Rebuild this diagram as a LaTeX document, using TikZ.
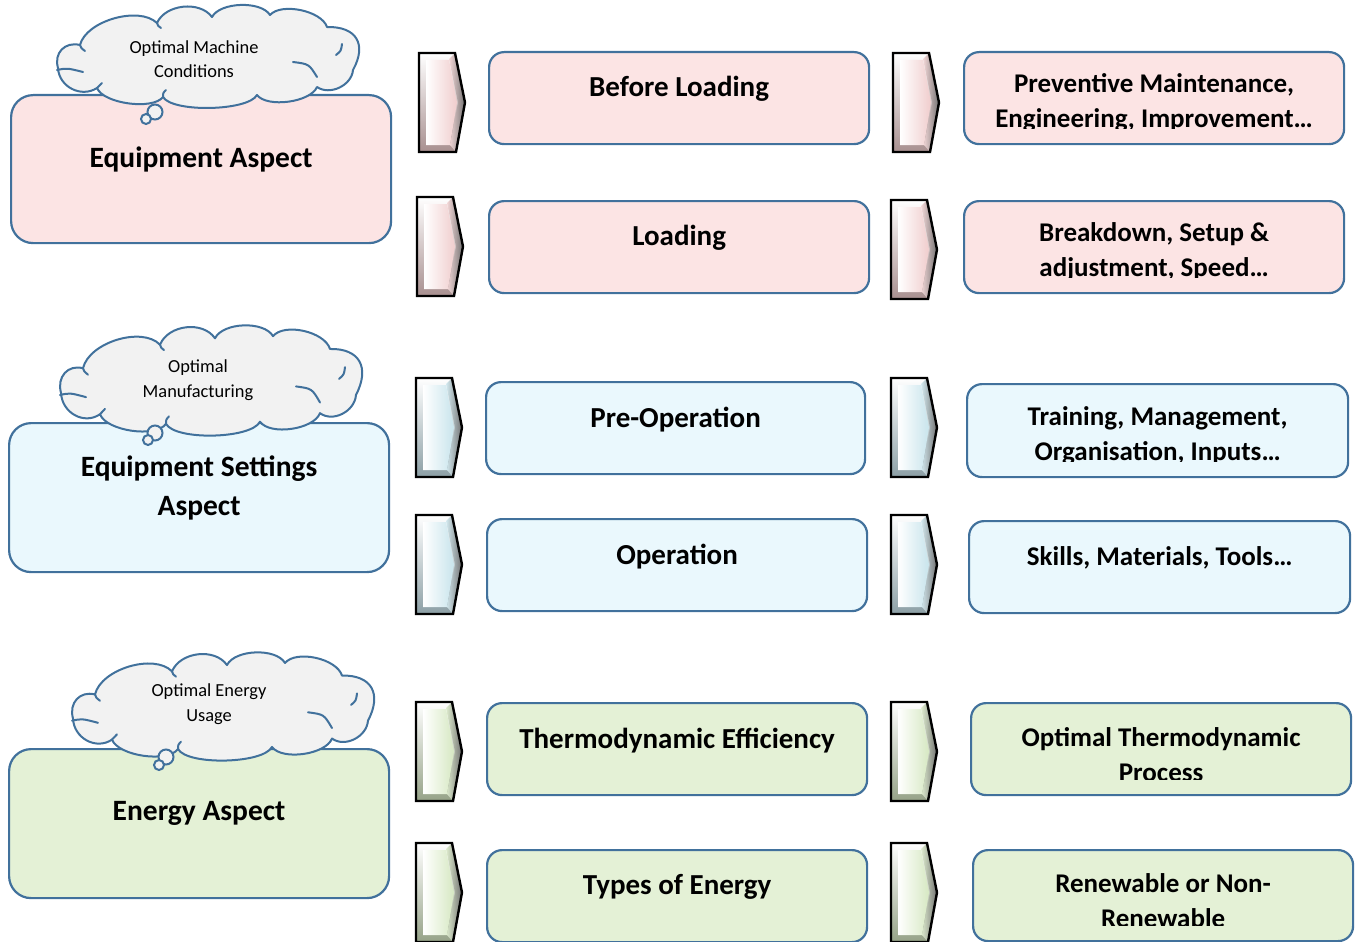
\documentclass[tikz,border=0pt]{standalone}
\usepackage{fontspec}
\setmainfont{Carlito}
\usetikzlibrary{calc}

\definecolor{edge}{RGB}{65,113,156}
\definecolor{pinkfill}{RGB}{252,228,228}
\definecolor{bluefill}{RGB}{234,248,253}
\definecolor{greenfill}{RGB}{228,241,214}
\definecolor{cloudfill}{RGB}{242,242,242}
\definecolor{pinkchev}{RGB}{240,205,205}
\definecolor{bluechev}{RGB}{200,228,236}
\definecolor{greenchev}{RGB}{214,232,194}

% bevelled chevron: name, left x, top y, colour
\newcommand\chevron[4]{%
  \coordinate (#1) at (#2,#3);
  \shadedraw[top color=white, bottom color=#4!70!black, draw=none]
    (#1) -- ++(36,0) -- ++(10,49.5) -- ++(-9,49.5) -- ++(-37,0) -- cycle;
  \shade[left color=#4!80!white, right color=black!55]
    ($(#1)+(30,6)$) -- ++(6,-6) -- ++(10,49.5) -- ++(-9,49.5) -- ++(-6,-7) -- ++(8,-42.5) -- cycle;
  \shade[left color=white, right color=#4]
    ($(#1)+(7,7)$) -- ++(23,0) -- ++(8,42.5) -- ++(-7,42.5) -- ++(-24,0) -- cycle;
  \draw[black, line width=2.4pt, line join=miter]
    (#1) -- ++(36,0) -- ++(10,49.5) -- ++(-9,49.5) -- ++(-37,0) -- cycle;
}

% thought cloud of eleven puffs: name, centre x, centre y, vertical scale
\newcommand\thoughtcloud[4]{%
  \begin{scope}[shift={(#2,#3)}, yscale=#4]
    \coordinate (#1) at (0,0);
    \filldraw[cloudline, fill=cloudfill]
      (-147,12) to[bend left=60, looseness=1.25] (-125,-11)
      to[bend left=60, looseness=0.8] (-48,-33)
      to[bend left=60, looseness=0.95] (7,-39)
      to[bend left=60, looseness=0.75] (65,-41)
      to[bend left=60, looseness=0.75] (122,-29)
      to[bend left=60, looseness=1.5] (148,14)
      to[bend left=60, looseness=1.0] (112,31)
      to[bend left=60, looseness=0.7] (52,39)
      to[bend left=60, looseness=0.5] (-42,41)
      to[bend left=60, looseness=0.65] (-108,32)
      to[bend left=60, looseness=1.1] cycle;
    % fold lines inside the cloud
    \draw[cloudline]
      (-148,14) .. controls (-138,12) .. (-122,16)
      (-125,-11) .. controls (-124,-8) .. (-120,-5)
      (-48,-33) .. controls (-47,-30) .. (-44,-28)
      (137,-12) .. controls (136,-5) .. (131,-1)
      (88,6) .. controls (104,8) .. (112,21)
      (-42,41) .. controls (-42,37) .. (-39,34)
      (-108,32) .. controls (-106,29) .. (-103,27);
  \end{scope}
}

\begin{document}
\begin{tikzpicture}[x=1pt, y=-1pt,
  cloudline/.style={draw=edge, line width=2pt, line cap=round, line join=round},
  bigbox/.style={draw=edge, line width=2.2pt, rounded corners=22pt, anchor=north west,
    minimum width=380pt, minimum height=148pt, inner sep=0pt},
  stagebox/.style={draw=edge, line width=2.2pt, rounded corners=15pt, anchor=north west,
    minimum width=380pt, minimum height=92pt, inner sep=0pt},
  inner/.style={anchor=center, draw=none, fill=none, rounded corners=0pt,
    minimum width=0pt, minimum height=0pt, inner sep=2pt},
  bigtext/.style={inner, font=\bfseries\fontsize{29.5}{39}\selectfont, align=center},
  midtext/.style={inner, font=\bfseries\fontsize{29}{35}\selectfont, align=center},
  sidetext/.style={inner, font=\bfseries\fontsize{27}{35}\selectfont, align=center},
  cloudtext/.style={font=\fontsize{18.4}{24.5}\selectfont, align=center},
  bubble/.style={circle, draw=edge, fill=cloudfill, line width=2pt, inner sep=0pt},
  % text set inside a box and cut off near its lower edge
  boxtext/.style n args={4}{path picture={
      \clip ([yshift=#1]path picture bounding box.south west)
        rectangle (path picture bounding box.north east);
      \node[#3] at ([yshift=#2]path picture bounding box.center) {#4};}},
]
\useasboundingbox (0,0) rectangle (1358,942);

%% Equipment aspect
\node[bigbox, fill=pinkfill, boxtext={0pt}{10pt}{bigtext}{Equipment Aspect}] (eq) at (10,94) {};
\thoughtcloud{eqc}{205}{56}{1}
\node[cloudtext] (eqct) at (194,59) {Optimal Machine\\Conditions};
\node[bubble, minimum size=15pt] (eqb1) at (155,112) {};
\node[bubble, minimum size=10pt] (eqb2) at (146,119) {};

\chevron{ch11}{419}{53}{pinkchev}
\chevron{ch12}{417}{197}{pinkchev}
\chevron{ch13}{893}{53}{pinkchev}
\chevron{ch14}{891}{200}{pinkchev}

\node[stagebox, fill=pinkfill, boxtext={14pt}{9pt}{midtext}{Before Loading}] (bl) at (488,51) {};
\node[stagebox, fill=pinkfill, boxtext={14pt}{9pt}{midtext}{Loading}] (ld) at (488,200) {};
\node[stagebox, fill=pinkfill, boxtext={16pt}{-5pt}{sidetext}{Preventive Maintenance,\\Engineering, Improvement…}] (pm) at (963,51) {};
\node[stagebox, fill=pinkfill, boxtext={16pt}{-5pt}{sidetext}{Breakdown, Setup \&\\adjustment, Speed…}] (bd) at (963,200) {};

%% Equipment settings aspect
\node[bigbox, fill=bluefill, minimum height=149pt, boxtext={0pt}{10pt}{bigtext}{Equipment Settings\\Aspect}] (es) at (8,422) {};
\thoughtcloud{esc}{208}{380}{1.07}
\node[cloudtext] (esct) at (198,380) {Optimal\\Manufacturing};
\node[bubble, minimum size=15pt] (esb1) at (155,433) {};
\node[bubble, minimum size=10pt] (esb2) at (148,440) {};

\chevron{ch21}{416}{378}{bluechev}
\chevron{ch22}{416}{515}{bluechev}
\chevron{ch23}{891}{378}{bluechev}
\chevron{ch24}{891}{515}{bluechev}

\node[stagebox, fill=bluefill, minimum width=379pt, boxtext={14pt}{9pt}{midtext}{Pre-Operation}] (po) at (485,381) {};
\node[stagebox, fill=bluefill, boxtext={14pt}{9pt}{midtext}{Operation}] (op) at (486,518) {};
\node[stagebox, fill=bluefill, minimum width=381pt, minimum height=93pt, boxtext={16pt}{-5pt}{sidetext}{Training, Management,\\Organisation, Inputs…}] (tr) at (966,383) {};
\node[stagebox, fill=bluefill, minimum width=381pt, boxtext={14pt}{9pt}{sidetext}{Skills, Materials, Tools…}] (sk) at (968,520) {};

%% Energy aspect
\node[bigbox, fill=greenfill, minimum height=149pt, boxtext={0pt}{10pt}{bigtext}{Energy Aspect}] (en) at (8,748) {};
\thoughtcloud{enc}{220}{706}{1.05}
\node[cloudtext] (enct) at (209,704) {Optimal Energy\\Usage};
\node[bubble, minimum size=15pt] (enb1) at (166,757) {};
\node[bubble, minimum size=10pt] (enb2) at (159,765) {};

\chevron{ch31}{416}{702}{greenchev}
\chevron{ch32}{416}{843}{greenchev}
\chevron{ch33}{891}{702}{greenchev}
\chevron{ch34}{891}{843}{greenchev}

\node[stagebox, fill=greenfill, boxtext={14pt}{9pt}{midtext}{Thermodynamic Efficiency}] (te) at (486,702) {};
\node[stagebox, fill=greenfill, boxtext={14pt}{9pt}{midtext}{Types of Energy}] (ty) at (486,849) {};
\node[stagebox, fill=greenfill, boxtext={16pt}{-5pt}{sidetext}{Optimal Thermodynamic\\Process}] (ot) at (970,702) {};
\node[stagebox, fill=greenfill, minimum height=91pt, boxtext={16pt}{-5pt}{sidetext}{Renewable or Non-\\Renewable}] (rn) at (972,849) {};
\end{tikzpicture}
\end{document}
